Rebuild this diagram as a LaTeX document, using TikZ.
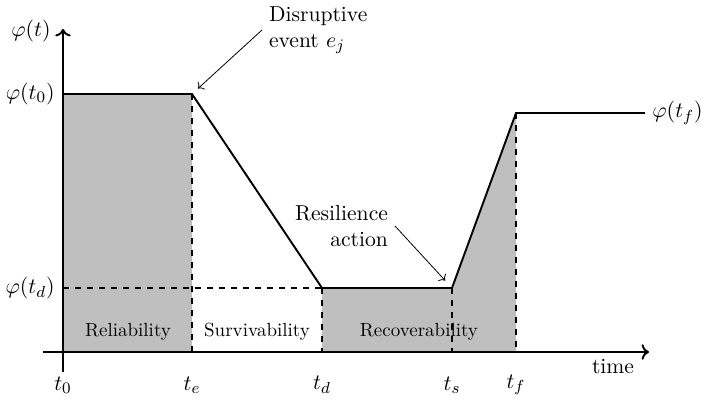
\documentclass[tikz,border=0pt]{standalone}
\usetikzlibrary{arrows.meta}
\begin{document}
\begin{tikzpicture}[x=0.5pt,y=-0.5pt,
  every node/.style={font=\fontsize{10.8}{13}\selectfont},
  axis/.style={line width=0.95pt,->},
  curve/.style={line width=0.95pt},
  guide/.style={line width=0.9pt,dashed},
  region/.style={fill=gray!50,draw=none},
  phase/.style={font=\fontsize{9.5}{11}\selectfont},
  note/.style={->,thin},
  ylab/.style={anchor=east,inner sep=0pt},
  tlab/.style={inner sep=0pt}]
\useasboundingbox (0,0) rectangle (702,400);
% key points of the curve
\coordinate (O0) at (63,94);
\coordinate (E) at (192,94);
\coordinate (D) at (322,288);
\coordinate (S) at (452,288);
\coordinate (F) at (516,113);
\coordinate (Fend) at (645,113);
% feet on the time axis
\coordinate (A0) at (63,352);
\coordinate (Ae) at (192,352);
\coordinate (Ad) at (322,352);
\coordinate (As) at (452,352);
\coordinate (Af) at (516,352);
\coordinate (Yd) at (63,288);
% axis ends
\coordinate (xs) at (43,352);
\coordinate (xe) at (649,352);
\coordinate (ys) at (63,372);
\coordinate (ye) at (63,29);
% shaded regions
\fill[region] (A0) -- (O0) -- (E) -- (Ae) -- cycle;
\fill[region] (Ad) -- (D) -- (S) -- (F) -- (Af) -- cycle;
% phase labels
\node[phase] (rel) at (128,332) {Reliability};
\node[phase] (sur) at (257,332) {Survivability};
\node[phase] (rec) at (419,332) {Recoverability};
% dashed guides
\draw[guide] (E) -- (Ae);
\draw[guide] (D) -- (Ad);
\draw[guide] (S) -- (As);
\draw[guide] (F) -- (Af);
\draw[guide] (Yd) -- (D);
% curve
\draw[curve] (O0) -- (E) -- (D) -- (S) -- (F) -- (Fend);
% axes
\draw[axis] (xs) -- (xe);
\draw[axis] (ys) -- (ye);
% axis labels
\node[ylab] (phit) at (51,31) {$\varphi(t)$};
\node[ylab] (phi0) at (55,94) {$\varphi(t_0)$};
\node[ylab] (phid) at (55,288) {$\varphi(t_d)$};
\node[anchor=west,inner sep=0pt] (phif) at (652,113) {$\varphi(t_f)$};
\node[tlab] (lt0) at (63,385) {$t_0$};
\node[tlab] (lte) at (192,385) {$t_e$};
\node[tlab] (ltd) at (322,385) {$t_d$};
\node[tlab] (lts) at (452,385) {$t_s$};
\node[tlab] (ltf) at (516,385) {$t_f$};
\node[tlab] (time) at (613,367) {time};
% annotations
\node[align=left,anchor=west] (dis) at (262,30) {Disruptive\\event $e_j$};
\node[align=right,anchor=east] (res) at (395,226) {Resilience\\action};
\draw[note,shorten >=4pt] (dis.west) -- (E);
\draw[note,shorten >=5pt] (res.east) -- (S);
\end{tikzpicture}
\end{document}
